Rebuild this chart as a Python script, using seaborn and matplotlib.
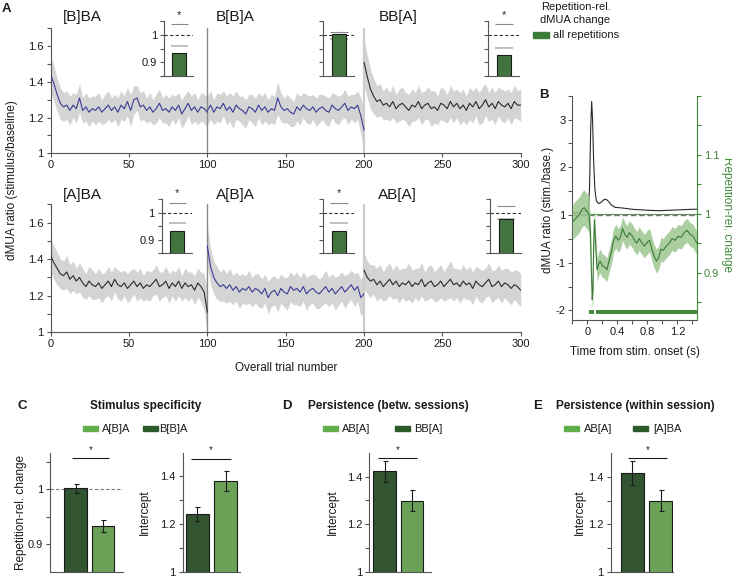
import numpy as np
import matplotlib.pyplot as plt
import matplotlib.patches as mpatches
import seaborn as sns

sns.set_theme(style='ticks')
plt.rcParams['font.family'] = ['Liberation Sans', 'DejaVu Sans']
plt.rcParams['axes.linewidth'] = 0.8

W, H = 732, 579

# ---- Panel A: mean dMUA ratio (every 2nd trial) and half-width of the gray band
# top row
b1_mean = [1.44, 1.39, 1.33, 1.28, 1.26, 1.27, 1.24, 1.27, 1.25, 1.31, 1.24, 1.26, 1.23, 1.25, 1.24, 1.26, 1.23,
           1.25, 1.27, 1.24, 1.26, 1.23, 1.27, 1.25, 1.29, 1.24, 1.30, 1.31, 1.26, 1.27, 1.24, 1.26, 1.23, 1.25,
           1.28, 1.24, 1.25, 1.23, 1.26, 1.24, 1.27, 1.22, 1.25, 1.28, 1.24, 1.26, 1.23, 1.26, 1.25, 1.23]
b1_hw = [0.10, 0.10, 0.09, 0.09, 0.08, 0.08, 0.08, 0.07, 0.08, 0.08, 0.07, 0.08, 0.08, 0.07, 0.08, 0.08, 0.07,
         0.08, 0.08, 0.07, 0.07, 0.08, 0.08, 0.07, 0.08, 0.09, 0.08, 0.07, 0.08, 0.08, 0.07, 0.08, 0.07, 0.08,
         0.08, 0.07, 0.08, 0.08, 0.07, 0.08, 0.07, 0.08, 0.08, 0.07, 0.08, 0.08, 0.07, 0.08, 0.08, 0.09]
b2_mean = [1.24, 1.27, 1.23, 1.26, 1.25, 1.28, 1.24, 1.26, 1.23, 1.27, 1.25, 1.24, 1.22, 1.26, 1.25, 1.23, 1.27,
           1.24, 1.26, 1.23, 1.25, 1.24, 1.31, 1.26, 1.24, 1.25, 1.23, 1.22, 1.26, 1.24, 1.27, 1.25, 1.24, 1.26,
           1.23, 1.25, 1.26, 1.24, 1.23, 1.27, 1.25, 1.24, 1.26, 1.28, 1.24, 1.26, 1.25, 1.27, 1.21, 1.13]
b2_hw = [0.08, 0.08, 0.07, 0.08, 0.08, 0.07, 0.08, 0.08, 0.09, 0.08, 0.07, 0.08, 0.08, 0.07, 0.08, 0.08, 0.07,
         0.08, 0.08, 0.07, 0.08, 0.08, 0.09, 0.08, 0.07, 0.08, 0.08, 0.07, 0.08, 0.08, 0.07, 0.08, 0.08, 0.07,
         0.08, 0.08, 0.07, 0.08, 0.08, 0.07, 0.08, 0.08, 0.07, 0.08, 0.08, 0.07, 0.08, 0.08, 0.10, 0.12]
b3_mean = [1.51, 1.43, 1.36, 1.32, 1.29, 1.30, 1.27, 1.28, 1.26, 1.29, 1.25, 1.27, 1.28, 1.26, 1.24, 1.27, 1.26,
           1.29, 1.25, 1.27, 1.28, 1.25, 1.26, 1.24, 1.28, 1.27, 1.25, 1.29, 1.26, 1.28, 1.25, 1.27, 1.24, 1.28,
           1.26, 1.29, 1.25, 1.27, 1.30, 1.26, 1.28, 1.25, 1.29, 1.27, 1.26, 1.28, 1.25, 1.29, 1.27, 1.27]
b3_hw = [0.13, 0.12, 0.11, 0.10, 0.09, 0.09, 0.08, 0.09, 0.08, 0.09, 0.08, 0.09, 0.09, 0.08, 0.09, 0.09, 0.08,
         0.09, 0.09, 0.08, 0.09, 0.10, 0.09, 0.08, 0.09, 0.09, 0.08, 0.09, 0.09, 0.08, 0.09, 0.09, 0.08, 0.09,
         0.09, 0.08, 0.09, 0.10, 0.09, 0.08, 0.09, 0.09, 0.08, 0.09, 0.09, 0.08, 0.09, 0.09, 0.08, 0.09]
# bottom row
a1_mean = [1.42, 1.38, 1.35, 1.32, 1.31, 1.33, 1.29, 1.31, 1.28, 1.30, 1.27, 1.25, 1.28, 1.26, 1.25, 1.27, 1.24,
           1.26, 1.28, 1.25, 1.29, 1.26, 1.25, 1.27, 1.24, 1.26, 1.28, 1.25, 1.27, 1.24, 1.26, 1.25, 1.27, 1.29,
           1.25, 1.26, 1.28, 1.24, 1.27, 1.25, 1.28, 1.24, 1.27, 1.25, 1.26, 1.23, 1.27, 1.25, 1.22, 1.11]
a1_hw = [0.09, 0.09, 0.09, 0.08, 0.08, 0.09, 0.08, 0.08, 0.07, 0.08, 0.08, 0.07, 0.08, 0.08, 0.07, 0.08, 0.08,
         0.07, 0.08, 0.08, 0.07, 0.08, 0.08, 0.07, 0.08, 0.08, 0.07, 0.08, 0.08, 0.07, 0.08, 0.08, 0.07, 0.08,
         0.08, 0.07, 0.08, 0.08, 0.07, 0.08, 0.08, 0.07, 0.08, 0.08, 0.07, 0.08, 0.08, 0.08, 0.10, 0.12]
a2_mean = [1.47, 1.36, 1.30, 1.27, 1.25, 1.26, 1.24, 1.26, 1.23, 1.25, 1.22, 1.24, 1.23, 1.25, 1.22, 1.24, 1.23,
           1.21, 1.24, 1.19, 1.22, 1.23, 1.20, 1.24, 1.22, 1.21, 1.25, 1.23, 1.24, 1.22, 1.25, 1.21, 1.23, 1.24,
           1.22, 1.21, 1.23, 1.25, 1.22, 1.24, 1.21, 1.23, 1.25, 1.22, 1.24, 1.26, 1.23, 1.25, 1.19, 1.21]
a2_hw = [0.11, 0.10, 0.09, 0.09, 0.08, 0.09, 0.08, 0.09, 0.08, 0.08, 0.09, 0.08, 0.08, 0.09, 0.08, 0.08, 0.09,
         0.08, 0.08, 0.09, 0.08, 0.08, 0.09, 0.08, 0.08, 0.09, 0.08, 0.08, 0.09, 0.08, 0.08, 0.09, 0.08, 0.08,
         0.09, 0.08, 0.08, 0.09, 0.08, 0.08, 0.09, 0.08, 0.08, 0.09, 0.08, 0.08, 0.09, 0.08, 0.10, 0.10]
a3_mean = [1.34, 1.30, 1.28, 1.29, 1.26, 1.28, 1.25, 1.27, 1.29, 1.26, 1.28, 1.25, 1.27, 1.26, 1.28, 1.25, 1.27,
           1.26, 1.29, 1.25, 1.27, 1.28, 1.25, 1.26, 1.28, 1.25, 1.27, 1.29, 1.26, 1.27, 1.25, 1.28, 1.26, 1.27,
           1.24, 1.28, 1.26, 1.25, 1.27, 1.29, 1.25, 1.26, 1.28, 1.25, 1.27, 1.26, 1.24, 1.26, 1.25, 1.23]
a3_hw = [0.10, 0.09, 0.09, 0.08, 0.09, 0.09, 0.08, 0.09, 0.09, 0.08, 0.09, 0.09, 0.08, 0.09, 0.10, 0.09, 0.08,
         0.09, 0.09, 0.08, 0.09, 0.09, 0.08, 0.09, 0.09, 0.08, 0.09, 0.10, 0.09, 0.08, 0.09, 0.09, 0.08, 0.09,
         0.09, 0.08, 0.09, 0.09, 0.08, 0.09, 0.09, 0.08, 0.09, 0.09, 0.08, 0.09, 0.09, 0.08, 0.09, 0.09]

top_labels = ['[B]BA', 'B[B]A', 'BB[A]']
bottom_labels = ['[A]BA', 'A[B]A', 'AB[A]']

# insets: repetition-related dMUA change (bar) and gray reference lines
inset_vals = [0.936, 1.003, 0.927, 0.931, 0.931, 0.978]
inset_hi = [1.039, 1.010, 1.039, 1.034, 1.034, 1.026]
inset_lo = [0.961, 0.986, 0.954, 0.960, 0.960, 0.975]
inset_sig = [True, False, True, True, True, False]

# ---- Panel B
t_black = [-0.2, -0.15, -0.1, -0.05, 0.0, 0.015, 0.03, 0.045, 0.058, 0.07, 0.085, 0.1, 0.12, 0.15, 0.18, 0.22,
           0.25, 0.28, 0.32, 0.37, 0.45, 0.6, 0.8, 0.95, 1.1, 1.25, 1.4, 1.46]
dmua_black = [1.05, 1.05, 1.06, 1.07, 1.08, 1.10, 1.6, 2.8, 3.38, 3.0, 2.1, 1.55, 1.30, 1.24, 1.26, 1.32,
              1.33, 1.29, 1.21, 1.16, 1.15, 1.12, 1.10, 1.09, 1.10, 1.11, 1.12, 1.12]
t_green = [-0.2, -0.17, -0.13, -0.1, -0.07, -0.04, -0.01, 0.02, 0.04, 0.055, 0.065, 0.075, 0.085, 0.095, 0.11,
           0.13, 0.15, 0.17, 0.2, 0.23, 0.26, 0.29, 0.32, 0.35, 0.38, 0.41, 0.44, 0.47, 0.5, 0.53, 0.56, 0.6,
           0.63, 0.66, 0.69, 0.72, 0.76, 0.8, 0.83, 0.86, 0.89, 0.92, 0.95, 0.98, 1.01, 1.05, 1.09, 1.13, 1.17,
           1.21, 1.25, 1.29, 1.33, 1.37, 1.41, 1.46]
rep_green = [0.985, 0.99, 0.995, 1.0, 1.008, 1.01, 1.005, 1.0, 0.97, 0.90, 0.855, 0.87, 0.95, 0.99, 0.95,
             0.905, 0.915, 0.92, 0.912, 0.91, 0.905, 0.92, 0.935, 0.955, 0.962, 0.955, 0.96, 0.975, 0.965,
             0.96, 0.968, 0.962, 0.955, 0.95, 0.958, 0.952, 0.945, 0.952, 0.955, 0.94, 0.928, 0.92, 0.925,
             0.94, 0.938, 0.945, 0.95, 0.958, 0.955, 0.962, 0.96, 0.968, 0.972, 0.965, 0.962, 0.95]
rep_green_hw = [0.03, 0.03, 0.03, 0.03, 0.03, 0.03, 0.03, 0.03, 0.025, 0.02, 0.015, 0.02, 0.02, 0.02, 0.02,
                0.02, 0.02, 0.02, 0.02, 0.02, 0.02, 0.02, 0.02, 0.02, 0.02, 0.02, 0.02, 0.02, 0.02, 0.02,
                0.02, 0.02, 0.02, 0.02, 0.02, 0.02, 0.02, 0.02, 0.02, 0.02, 0.02, 0.02, 0.02, 0.02, 0.02,
                0.02, 0.02, 0.02, 0.02, 0.02, 0.02, 0.02, 0.02, 0.02, 0.02, 0.02]
sig_start = [0.027, 0.116]
sig_end = [0.093, 1.46]
sig_level = [0.833, 0.833]

# ---- Panels C-E (dark bar first, light bar second)
c_rep_vals = [1.001, 0.933]
c_rep_err = [0.009, 0.011]
c_int_vals = [1.242, 1.381]
c_int_err = [0.031, 0.043]
d_int_vals = [1.422, 1.299]
d_int_err = [0.043, 0.043]
e_int_vals = [1.418, 1.300]
e_int_err = [0.050, 0.043]

BLUE = '#3a3a96'
BLACK = '#2a2a2a'
BAND = '#d4d4d4'
INSET_GREEN = '#3b7d37'
DARK = '#2c5a2b'
LIGHT = '#62ae4a'
GREEN = '#3f8a39'
SPINE = '#555555'

fig = plt.figure(figsize=(7.32, 5.79), dpi=100)


def rect(l, t, r, b):
    return [l / W, 1 - b / H, (r - l) / W, (b - t) / H]


def ftext(x, y, s, **kw):
    kw.setdefault('color', '#1a1a1a')
    fig.text(x / W, 1 - y / H, s, **kw)


def style(ax):
    sns.despine(ax=ax)
    for sp in ax.spines.values():
        sp.set_color(SPINE)
        sp.set_linewidth(0.8)
    ax.tick_params(length=3, width=0.8, pad=2, labelsize=8, color=SPINE, labelcolor='#1a1a1a')


# ---------------- Panel A ----------------
rows = [
    (rect(50.7, 28.3, 520.7, 153.3),
     [(b1_mean, b1_hw, BLUE), (b2_mean, b2_hw, BLUE), (b3_mean, b3_hw, BLACK)], top_labels, 17.3),
    (rect(50.7, 204.3, 520.7, 332.3),
     [(a1_mean, a1_hw, BLACK), (a2_mean, a2_hw, BLUE), (a3_mean, a3_hw, BLACK)], bottom_labels, 195),
]
seg_x = np.arange(50) * 100 / 49
for box, segs, labels, ty in rows:
    ax = fig.add_axes(box)
    style(ax)
    ax.axvline(100, color='#8a8a8a', lw=1, zorder=2.5)
    ax.axvline(200, color='#cccccc', lw=1.6, zorder=2.5)
    for i, (m, hw, c) in enumerate(segs):
        x = seg_x + 100 * i
        m = np.array(m)
        hw = np.array(hw)
        ax.fill_between(x, m - hw, m + hw, color=BAND, lw=0, zorder=2)
        sns.lineplot(x=x, y=m, color=c, lw=0.8, ax=ax, zorder=3)
    ax.set_xlim(0, 300)
    ax.set_ylim(1, 1.7)
    ax.set_xticks(np.arange(0, 301, 50))
    ax.set_yticks(np.arange(1, 1.71, 0.1))
    ax.set_yticklabels(['1', '', '1.2', '', '1.4', '', '1.6', ''])
    for i, lab in enumerate(labels):
        ftext([62.7, 216, 378.3][i], ty, lab, fontsize=11, va='center')

ftext(286, 368, 'Overall trial number', fontsize=8.5, ha='center', va='center')
ftext(12.5, 180, 'dMUA ratio (stimulus/baseline)', fontsize=8.5, rotation=90, ha='center', va='center')

inset_boxes = [(164.3, 21, 193.3, 76.3), (323.3, 21, 354.3, 76.3), (488.3, 21, 519.3, 76.3),
               (161.7, 199, 192.0, 253.3), (323.3, 199, 354.0, 253.3), (490.0, 199, 521.0, 253.3)]
for k, box in enumerate(inset_boxes):
    ax = fig.add_axes(rect(*box))
    style(ax)
    sns.barplot(x=[0], y=[inset_vals[k]], color=INSET_GREEN, width=0.46, edgecolor='#1a1a1a',
                linewidth=0.8, errorbar=None, ax=ax, zorder=3)
    ax.axhline(1, color='#333333', lw=0.8, ls=(0, (3, 2)), zorder=2)
    ax.hlines(inset_hi[k], -0.28, 0.3, color='#8a8a8a', lw=0.8, zorder=2)
    ax.hlines(inset_lo[k], -0.28, 0.3, color='#b5b5b5', lw=1.2, zorder=2)
    ax.set_xlim(-0.507, 0.493)
    ax.set_ylim(0.85, 1.05)
    ax.set_xticks([])
    ax.set_xlabel('')
    ax.set_yticks([0.85, 0.9, 0.95, 1.0, 1.05])
    if k in (0, 3):
        ax.set_yticklabels(['', '0.9', '', '1', ''])
    else:
        ax.set_yticklabels([])
    if inset_sig[k]:
        ax.text(0.0, 1.072, '*', ha='center', va='center', fontsize=8, clip_on=False)

# legend of panel A insets
ftext(576, 6.5, 'Repetition-rel.', fontsize=8, ha='center', va='center')
ftext(575.5, 19.8, 'dMUA change', fontsize=8, ha='center', va='center')
fig.patches.append(mpatches.Rectangle((533.3 / W, 1 - 37.5 / H), 16 / W, 5.5 / H,
                                      transform=fig.transFigure, color=INSET_GREEN))
ftext(553, 34.8, 'all repetitions', fontsize=8, va='center')

# ---------------- Panel B ----------------
axb = fig.add_axes(rect(572.3, 95.7, 696.9, 320))
style(axb)
axb.axhline(1, color='#777777', lw=1, ls=(0, (4, 2)), zorder=1)
sns.lineplot(x=t_black, y=dmua_black, color=BLACK, lw=0.8, ax=axb)
axb.set_xlim(-0.2, 1.46)
axb.set_ylim(-1.2, 3.5)
axb.set_yticks(np.arange(-1, 3.51, 0.5))
axb.set_yticklabels(['-2', '', '-1', '', '1', '', '2', '', '3', ''])
axb.set_xticks(np.arange(-0.2, 1.41, 0.2))
axb.set_xticklabels(['', '0', '', '0.4', '', '0.8', '', '1.2', ''])

axg = axb.twinx()
g_mean = np.array(rep_green)
g_hw = np.array(rep_green_hw)
axg.fill_between(t_green, g_mean - g_hw, g_mean + g_hw, color='#9cc791', lw=0, alpha=0.85)
sns.lineplot(x=t_green, y=g_mean, color='#3d7a37', lw=0.8, ax=axg)
axg.axhline(1, color='#5a9a50', lw=0.8, zorder=0)
axg.hlines(sig_level, sig_start, sig_end, color=GREEN, lw=2.8)
axg.set_ylim(0.82, 1.2)
axg.set_yticks(np.arange(0.85, 1.201, 0.05))
axg.set_yticklabels(['', '0.9', '', '1', '', '1.1', '', ''])
for s in ['left', 'top', 'bottom']:
    axg.spines[s].set_visible(False)
axg.spines['right'].set_color(GREEN)
axg.spines['right'].set_linewidth(0.8)
axg.tick_params(axis='y', length=3, width=0.8, pad=2, labelsize=8, colors=GREEN)
axg.set_xlim(-0.2, 1.46)

ftext(635, 351.7, 'Time from stim. onset (s)', fontsize=8.5, ha='center', va='center')
ftext(548, 210, 'dMUA ratio (stim./base.)', fontsize=8.5, rotation=90, ha='center', va='center')
ftext(727, 214, 'Repetition-rel. change', fontsize=8.5, rotation=270, ha='center', va='center',
      color=GREEN)

# ---------------- Panels C-E ----------------
bar_panels = [
    # box, xlim, ylim, ticks, ticklabels, values, errors, (sig x0, sig x1, sig y), ylabel x, ylabel
    ((50, 453.3, 122.7, 571.5), (-0.92, 1.7), (0.85, 1.065), [0.9, 0.95, 1.0, 1.05], ['0.9', '', '1', ''],
     c_rep_vals, c_rep_err, (-0.14, 1.21, 1.056), 20.7, 'Repetition-rel. change'),
    ((182.7, 452.7, 240, 571.5), (-0.52, 1.5), (1, 1.5), [1, 1.1, 1.2, 1.3, 1.4], ['1', '', '1.2', '', '1.4'],
     c_int_vals, c_int_err, (-0.22, 1.17, 1.474), 145, 'Intercept'),
    ((369.3, 453, 430.7, 571.5), (-0.55, 1.67), (1, 1.5), [1, 1.1, 1.2, 1.3, 1.4], ['1', '', '1.2', '', '1.4'],
     d_int_vals, d_int_err, (-0.22, 1.16, 1.478), 333.3, 'Intercept'),
    ((610.7, 453.3, 673.3, 571.5), (-0.77, 1.45), (1, 1.5), [1, 1.1, 1.2, 1.3, 1.4], ['1', '', '1.2', '', '1.4'],
     e_int_vals, e_int_err, (-0.15, 1.21, 1.479), 580, 'Intercept'),
]
for k, (box, xl, yl, ticks, tlabels, vals, errs, sig, ylx, ylab) in enumerate(bar_panels):
    ax = fig.add_axes(rect(*box))
    style(ax)
    if k == 0:
        ax.axhline(1, color='#777777', lw=0.8, ls=(0, (3, 2)), zorder=1)
    sns.barplot(x=['dark', 'light'], y=vals, hue=['dark', 'light'], palette=[DARK, LIGHT], width=0.8,
                edgecolor='#1a1a1a', linewidth=0.8, errorbar=None, legend=False, ax=ax, zorder=2)
    ax.errorbar([0, 1], vals, yerr=errs, fmt='none', ecolor='#1a1a1a', elinewidth=0.8, capsize=1.8,
                capthick=0.8, zorder=3)
    ax.hlines(sig[2], sig[0], sig[1], color='#1a1a1a', lw=0.8, clip_on=False)
    ax.text((sig[0] + sig[1]) / 2, sig[2] + (yl[1] - yl[0]) * 0.03, '*', ha='center', va='bottom',
            fontsize=7, clip_on=False)
    ax.set_xlim(*xl)
    ax.set_ylim(*yl)
    ax.set_xticks([])
    ax.set_xlabel('')
    ax.set_ylabel('')
    ax.set_yticks(ticks)
    ax.set_yticklabels(tlabels)
    ftext(ylx, 512, ylab, fontsize=8.5, rotation=90, ha='center', va='center')

# titles and legends of C-E
ftext(145.8, 405.7, 'Stimulus specificity', fontsize=8.5, weight='bold', ha='center', va='center')
ftext(388.3, 405.7, 'Persistence (betw. sessions)', fontsize=8.5, weight='bold', ha='center', va='center')
ftext(635, 405.7, 'Persistence (within session)', fontsize=8.5, weight='bold', ha='center', va='center')

legend_items = [
    (83, 101.7, 'A[B]A', LIGHT), (143, 159, 'B[B]A', DARK),
    (322.7, 342.3, 'AB[A]', LIGHT), (395, 414, 'BB[A]', DARK),
    (564, 584, 'AB[A]', LIGHT), (633.3, 653.3, '[A]BA', DARK),
]
for px, tx, lab, col in legend_items:
    fig.patches.append(mpatches.Rectangle((px / W, 1 - 430.5 / H), 15 / W, 5 / H,
                                          transform=fig.transFigure, color=col))
    ftext(tx, 428.5, lab, fontsize=8, va='center')

# panel letters
for x, y, s in [(2, 9.5, 'A'), (539.3, 94.7, 'B'), (17.3, 405.8, 'C'), (281.7, 405.8, 'D'), (533.3, 405.8, 'E')]:
    ftext(x, y, s, fontsize=9.5, weight='bold', va='center')

fig.savefig('out.png', dpi=100)
